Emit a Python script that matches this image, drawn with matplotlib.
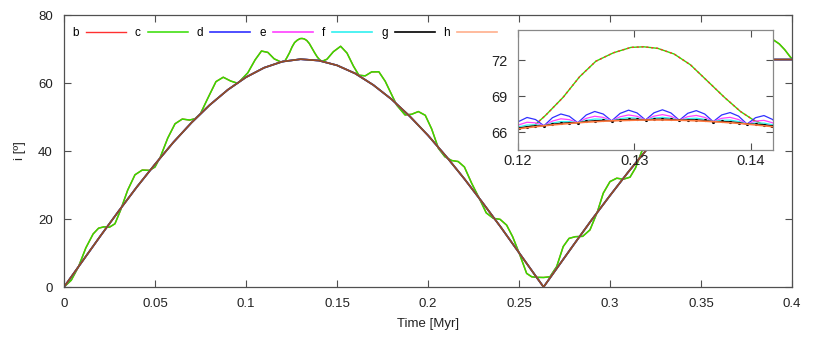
import matplotlib.pyplot as plt

plt.rcParams['font.family'] = ['Liberation Sans', 'DejaVu Sans']

# smooth curve shared by runs d-h (main panel)
t_main = [0.00, 0.01, 0.02, 0.03, 0.04, 0.05, 0.06, 0.07, 0.08, 0.09,
          0.10, 0.11, 0.12, 0.13, 0.14, 0.15, 0.16, 0.17, 0.18, 0.19,
          0.20, 0.21, 0.22, 0.23, 0.24, 0.25, 0.26, 0.2635, 0.27, 0.28,
          0.29, 0.30, 0.31, 0.32, 0.33, 0.34, 0.35, 0.36, 0.37, 0.38,
          0.39, 0.40]
i_main = [0.0, 7.5, 15.0, 22.3, 29.4, 36.1, 42.5, 48.3, 53.5, 58.0,
          61.7, 64.5, 66.3, 67.0, 66.6, 65.2, 62.8, 59.4, 55.2, 50.2,
          44.6, 38.4, 31.8, 24.8, 17.6, 10.1, 2.6, 0.0, 4.9, 12.4,
          19.8, 26.9, 33.8, 40.3, 46.3, 51.8, 56.5, 60.5, 63.6, 65.8,
          66.9, 66.9]

# oscillating run c (b lies on top of it)
t_c = [0.000, 0.004, 0.008, 0.012, 0.016, 0.019, 0.022, 0.025, 0.028, 0.031,
       0.035, 0.039, 0.043, 0.047, 0.050, 0.053, 0.057, 0.061, 0.065, 0.069,
       0.072, 0.075, 0.079, 0.0835, 0.0875, 0.0915, 0.0955, 0.101, 0.105, 0.1085,
       0.112, 0.1155, 0.1195, 0.1215, 0.1224, 0.1239, 0.1253, 0.1267, 0.1282, 0.1297,
       0.1308, 0.1320, 0.1334, 0.1348, 0.1362, 0.1377, 0.1391, 0.1402, 0.1411, 0.1419,
       0.1445, 0.148, 0.152, 0.1555, 0.159, 0.162, 0.1655, 0.169, 0.173, 0.1765,
       0.180, 0.1828, 0.1874, 0.191, 0.1947, 0.1985, 0.202, 0.2057, 0.2093, 0.213,
       0.2166, 0.220, 0.224, 0.2286, 0.232, 0.2359, 0.2396, 0.2432, 0.2465, 0.2505,
       0.2542, 0.257, 0.2597, 0.2635, 0.267, 0.2707, 0.2743, 0.2775, 0.281, 0.285,
       0.289, 0.293, 0.2963, 0.300, 0.3037, 0.3073, 0.311, 0.314, 0.3174, 0.321,
       0.325, 0.328, 0.331, 0.334, 0.337, 0.341, 0.345, 0.3485, 0.352, 0.355,
       0.358, 0.362, 0.366, 0.369, 0.372, 0.3755, 0.3785, 0.381, 0.384, 0.387,
       0.390, 0.393, 0.396, 0.399, 0.400]
i_c = [0.0, 2.0, 6.0, 11.5, 15.6, 17.3, 17.7, 17.6, 18.6, 22.5,
       28.5, 33.0, 34.4, 34.3, 35.3, 38.3, 43.8, 48.0, 49.4, 49.1,
       49.5, 51.0, 55.5, 60.4, 61.7, 60.6, 59.9, 63.0, 66.8, 69.4,
       69.0, 67.1, 66.1, 66.6, 67.4, 68.9, 70.6, 71.9, 72.6, 73.05,
       73.1, 72.97, 72.5, 71.6, 70.3, 68.9, 67.7, 67.0, 66.6, 66.4,
       67.0, 69.2, 70.8, 68.8, 65.0, 62.3, 62.1, 63.25, 63.3, 60.5,
       56.6, 53.5, 50.6, 50.8, 51.6, 50.5, 46.5, 40.8, 38.3, 37.2,
       36.9, 35.3, 30.5, 25.6, 21.8, 20.2, 19.9, 18.2, 14.8, 9.4,
       4.0, 3.0, 2.85, 2.8, 3.0, 6.0, 11.9, 14.3, 14.8, 14.9,
       16.8, 22.0, 27.6, 31.0, 32.0, 31.7, 32.3, 35.0, 39.8, 44.5,
       47.8, 48.5, 48.3, 49.0, 51.0, 55.5, 59.3, 60.4, 60.0, 59.2,
       60.5, 65.0, 68.0, 68.6, 67.8, 66.0, 65.6, 66.8, 70.5, 72.8,
       72.6, 71.5, 69.8, 67.7, 67.1]

# zoomed window around the first maximum
t_zoom = [0.11935, 0.120075, 0.1208, 0.121525, 0.12225, 0.122975, 0.1237, 0.124425,
          0.12515, 0.125875, 0.1266, 0.127325, 0.12805, 0.128775, 0.1295, 0.130225,
          0.13095, 0.131675, 0.1324, 0.133125, 0.13385, 0.134575, 0.1353, 0.136025,
          0.13675, 0.137475, 0.1382, 0.138925, 0.13965, 0.140375, 0.1411, 0.141825,
          0.14255]
d_zoom = [66.18, 66.87, 67.21, 67.04, 66.52, 67.19, 67.50, 67.31, 66.77, 67.42, 67.71,
          67.50, 66.93, 67.55, 67.82, 67.59, 67.00, 67.60, 67.85, 67.59, 66.98, 67.56,
          67.78, 67.50, 66.86, 67.42, 67.62, 67.32, 66.66, 67.19, 67.37, 67.05, 66.36]
e_zoom = [66.18, 66.59, 66.81, 66.76, 66.52, 66.91, 67.10, 67.03, 66.77, 67.14, 67.31,
          67.22, 66.93, 67.27, 67.42, 67.31, 67.00, 67.32, 67.45, 67.31, 66.98, 67.28,
          67.38, 67.22, 66.86, 67.14, 67.22, 67.04, 66.66, 66.91, 66.97, 66.77, 66.36]
f_zoom = [66.18, 66.43, 66.58, 66.60, 66.52, 66.75, 66.87, 66.87, 66.77, 66.98, 67.08,
          67.06, 66.93, 67.11, 67.19, 67.15, 67.00, 67.16, 67.22, 67.15, 66.98, 67.12,
          67.15, 67.06, 66.86, 66.98, 66.99, 66.88, 66.66, 66.75, 66.74, 66.61, 66.36]
g_zoom = [66.18, 66.33, 66.44, 66.50, 66.52, 66.65, 66.73, 66.77, 66.77, 66.88, 66.94,
          66.96, 66.93, 67.01, 67.05, 67.05, 67.00, 67.06, 67.08, 67.05, 66.98, 67.02,
          67.01, 66.96, 66.86, 66.88, 66.85, 66.78, 66.66, 66.65, 66.60, 66.51, 66.36]
h_zoom = [66.18, 66.27, 66.36, 66.44, 66.52, 66.59, 66.65, 66.71, 66.77, 66.82, 66.86,
          66.90, 66.93, 66.95, 66.97, 66.99, 67.00, 67.00, 67.00, 66.99, 66.98, 66.96,
          66.93, 66.90, 66.86, 66.82, 66.77, 66.72, 66.66, 66.59, 66.52, 66.45, 66.36]

names = ['b', 'c', 'd', 'e', 'f', 'g', 'h']
colors = ['#ff3030', '#33dd00', '#3030ff', '#ff40ff', '#30f0f0', '#000000', '#ff7a40']
frame = '#505050'
txt = '#222222'

fig = plt.figure(figsize=(8.14, 3.42), dpi=100)
ax = fig.add_axes([64 / 814, 55 / 342, 728 / 814, 272 / 342])

ax.plot(t_c, i_c, color=colors[0], lw=1.0, label=names[0])
ax.plot(t_c, i_c, color=colors[1], lw=1.1, label=names[1])
for k in range(2, 6):
    ax.plot(t_main, i_main, color=colors[k], lw=1.2, label=names[k])
ax.plot(t_main, i_main, color=colors[6], lw=1.2, alpha=0.6, label=names[6])

ax.set_xlim(0, 0.4)
ax.set_ylim(0, 80)
ax.set_xticks([0, 0.05, 0.1, 0.15, 0.2, 0.25, 0.3, 0.35, 0.4])
ax.set_xticklabels(['0', '0.05', '0.1', '0.15', '0.2', '0.25', '0.3', '0.35', '0.4'])
ax.set_yticks([0, 20, 40, 60, 80])
ax.tick_params(direction='in', top=True, right=True, length=5, width=0.8,
               color=frame, labelsize=9.5, labelcolor=txt)
ax.tick_params(axis='x', pad=8)
ax.tick_params(axis='y', pad=8)
for s in ax.spines.values():
    s.set_color(frame)
    s.set_linewidth(0.9)
ax.set_xlabel('Time [Myr]', fontsize=9.5, color=txt, labelpad=6)
ax.set_ylabel('i [º]', fontsize=9.5, color=txt, labelpad=9)

ax.legend(loc='upper left', bbox_to_anchor=(8 / 728, 1 - 12 / 272), ncol=7,
          frameon=False, markerfirst=False, fontsize=8.5, handlelength=3.4,
          handletextpad=0.6, columnspacing=0.75, borderaxespad=0, borderpad=0)

# inset
axi = fig.add_axes([517.7 / 814, 192 / 342, 255.6 / 814, 120 / 342])
axi.set_facecolor('white')
axi.plot(t_c, i_c, color=colors[1], lw=1.0)
axi.plot(t_c, i_c, color=colors[0], lw=1.0, ls=(0, (1.5, 2)))
axi.plot(t_zoom, d_zoom, color=colors[2], lw=0.9)
axi.plot(t_zoom, e_zoom, color=colors[3], lw=0.9)
axi.plot(t_zoom, f_zoom, color=colors[4], lw=0.9)
axi.plot(t_zoom, g_zoom, color=colors[5], lw=0.9, marker='.', ms=2.5)
axi.plot(t_zoom, h_zoom, color=colors[6], lw=1.2)
axi.set_xlim(0.12, 0.1419)
axi.set_ylim(64.5, 74.5)
axi.set_xticks([0.12, 0.13, 0.14])
axi.set_xticklabels(['0.12', '0.13', '0.14'])
axi.set_yticks([66, 69, 72])
axi.tick_params(direction='in', top=True, right=True, length=5, width=0.8,
                color=frame, labelsize=10.5, labelcolor=txt)
axi.tick_params(axis='x', pad=3)
axi.tick_params(axis='y', pad=7)
for s in axi.spines.values():
    s.set_color('#888888')
    s.set_linewidth(0.9)

fig.savefig('out.png', dpi=100)
